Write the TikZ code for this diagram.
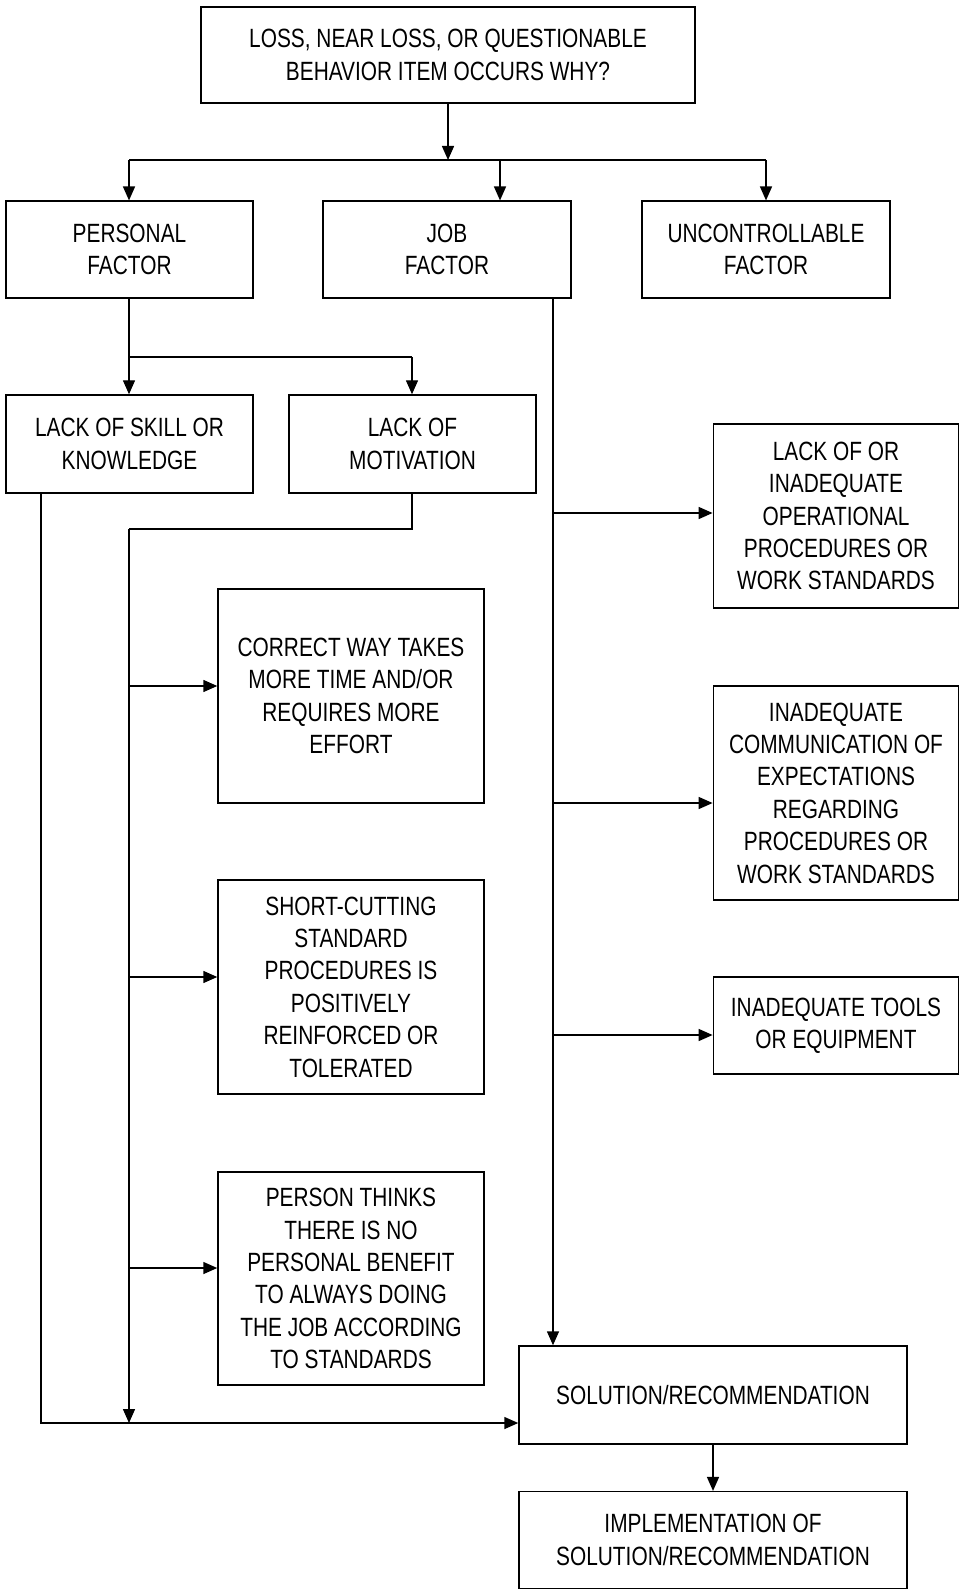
\documentclass[tikz,border=0pt]{standalone}
\usepackage{fontspec}
\setmainfont{Liberation Sans}[FakeStretch=0.79]
\usetikzlibrary{arrows.meta}

\begin{document}
\begin{tikzpicture}[
    x=0.75pt, y=-0.75pt,
    box/.style={rectangle, draw, line width=1.1pt, inner sep=2pt, align=center, font=\fontsize{19.8}{24.3}\selectfont},
    arrow/.style={-{Triangle[length=10.5pt, width=9pt]}, line width=1.1pt},
    line/.style={line width=1.1pt}
]
\useasboundingbox (0,0) rectangle (960,1590);

% boxes
\node[box, minimum width=370.5pt, minimum height=72pt] (loss) at (448,55) {LOSS, NEAR LOSS, OR QUESTIONABLE\\BEHAVIOR ITEM OCCURS WHY?};
\node[box, minimum width=185pt, minimum height=72.5pt] (personal) at (129.5,249.5) {PERSONAL\\FACTOR};
\node[box, minimum width=186pt, minimum height=72.5pt] (job) at (447,249.5) {JOB\\FACTOR};
\node[box, minimum width=186pt, minimum height=72.5pt] (uncontrol) at (766,249.5) {UNCONTROLLABLE\\FACTOR};
\node[box, minimum width=185pt, minimum height=73.5pt] (skill) at (129.5,444) {LACK OF SKILL OR\\KNOWLEDGE};
\node[box, minimum width=185pt, minimum height=73.5pt] (motiv) at (412.5,444) {LACK OF\\MOTIVATION};
\node[box, minimum width=199.5pt, minimum height=160.5pt] (correct) at (351,696) {CORRECT WAY TAKES\\MORE TIME AND/OR\\REQUIRES MORE\\EFFORT};
\node[box, minimum width=199.5pt, minimum height=160.5pt] (shortcut) at (351,987) {SHORT-CUTTING\\STANDARD\\PROCEDURES IS\\POSITIVELY\\REINFORCED OR\\TOLERATED};
\node[box, minimum width=199.5pt, minimum height=160pt] (nobenefit) at (351,1278.5) {PERSON THINKS\\THERE IS NO\\PERSONAL BENEFIT\\TO ALWAYS DOING\\THE JOB ACCORDING\\TO STANDARDS};
\node[box, minimum width=184pt, minimum height=138pt] (procs) at (836,516) {LACK OF OR\\INADEQUATE\\OPERATIONAL\\PROCEDURES OR\\WORK STANDARDS};
\node[box, minimum width=184pt, minimum height=160.5pt] (comm) at (836,793) {INADEQUATE\\COMMUNICATION OF\\EXPECTATIONS\\REGARDING\\PROCEDURES OR\\WORK STANDARDS};
\node[box, minimum width=184pt, minimum height=72.5pt] (tools) at (836,1025.5) {INADEQUATE TOOLS\\OR EQUIPMENT};
\node[box, minimum width=291pt, minimum height=73.5pt] (solution) at (713,1395) {SOLUTION/RECOMMENDATION};
\node[box, minimum width=291pt, minimum height=72.5pt] (implement) at (713,1540) {IMPLEMENTATION OF\\SOLUTION/RECOMMENDATION};

% junction points
\coordinate (busL) at (129,160);
\coordinate (busR) at (766,160);
\coordinate (jobin) at (500,160);
\coordinate (pbusL) at (129,357);
\coordinate (pbusR) at (412,357);
\coordinate (skcorner) at (41,1423);
\coordinate (mvcorner) at (129,529);
\coordinate (mvend) at (129,1423);
\coordinate (jline) at (553,0);

% top split
\draw[arrow] (loss.south) -- (loss.south |- busL);
\draw[line] (busL) -- (busR);
\draw[arrow] (busL) -- (busL |- personal.north);
\draw[arrow] (jobin) -- (jobin |- job.north);
\draw[arrow] (busR) -- (busR |- uncontrol.north);

% personal factor
\draw[line] (personal.south -| pbusL) -- (pbusL) -- (pbusR);
\draw[arrow] (pbusL) -- (pbusL |- skill.north);
\draw[arrow] (pbusR) -- (pbusR |- motiv.north);

% lack of skill
\draw[arrow] (skill.south -| skcorner) -- (skcorner) -- (skcorner -| solution.west);

% lack of motivation
\draw[line] (motiv.south -| pbusR) -- (pbusR |- mvcorner) -- (mvcorner);
\draw[arrow] (mvcorner) -- (mvend);
\draw[arrow] (129,686) -- (correct.west |- 0,686);
\draw[arrow] (129,977) -- (shortcut.west |- 0,977);
\draw[arrow] (129,1268) -- (nobenefit.west |- 0,1268);

% job factor
\draw[arrow] (job.south -| jline) -- (jline |- solution.north);
\draw[arrow] (553,513) -- (procs.west |- 0,513);
\draw[arrow] (553,803) -- (comm.west |- 0,803);
\draw[arrow] (553,1035) -- (tools.west |- 0,1035);

% solution
\draw[arrow] (solution.south) -- (implement.north);
\end{tikzpicture}
\end{document}
